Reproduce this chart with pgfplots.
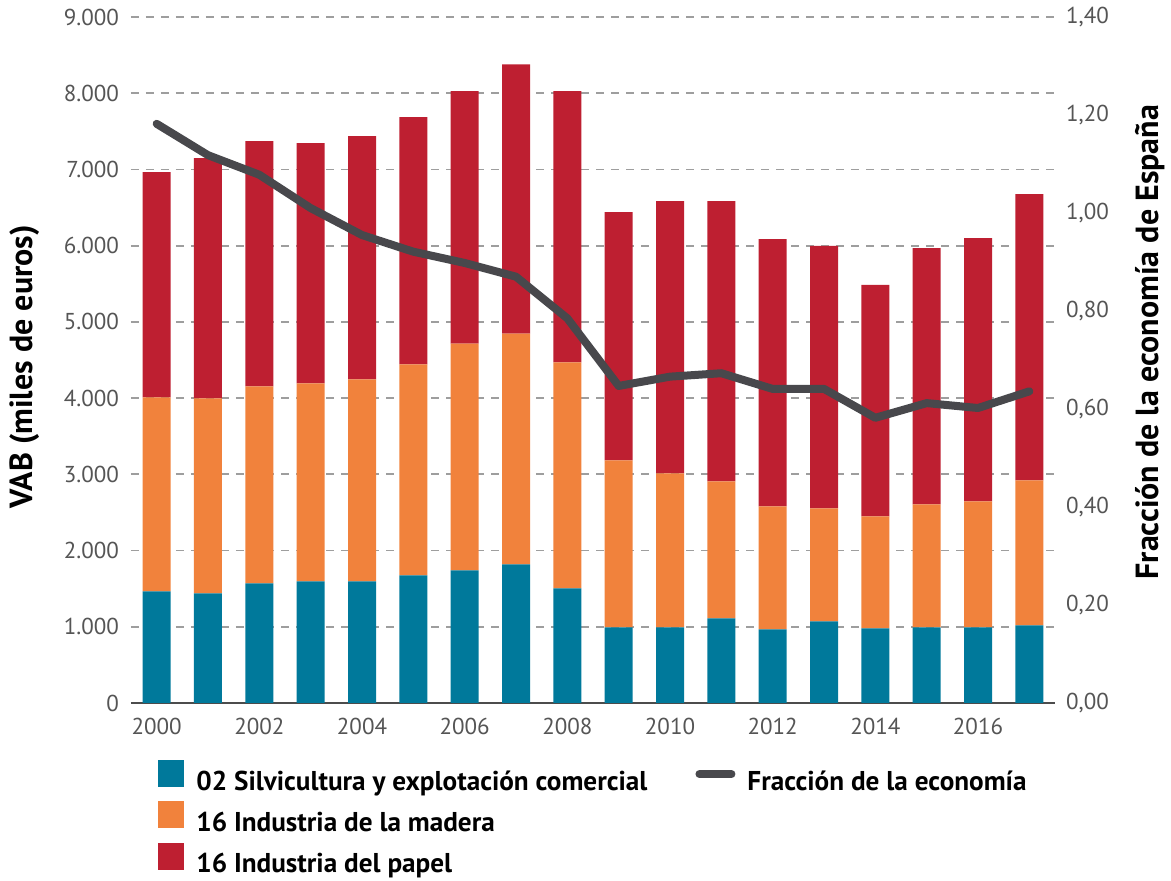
\documentclass[border=0pt]{standalone}
\usepackage{pgfplots}
\pgfplotsset{compat=1.18}
\usepackage{fontspec}
\setmainfont{PT Sans}
\definecolor{cBlue}{HTML}{00799B}
\definecolor{cOrange}{HTML}{F1823C}
\definecolor{cRed}{HTML}{BE1F31}
\definecolor{cLine}{HTML}{48484C}
\definecolor{cTick}{HTML}{555555}
\definecolor{cGrid}{HTML}{9E9E9E}
\pgfplotsset{
  barleg/.style={legend image code/.code={\fill[##1, draw=none] (0pt,-2.5pt) rectangle (13pt,11pt);}},
  lineleg/.style={legend image code/.code={\draw[##1] (2pt,4pt) -- (18pt,4pt);}},
}
\begin{document}
\begin{tikzpicture}
\useasboundingbox (-65.5pt,-89pt) rectangle (520pt,351.5pt);
\begin{axis}[
  at={(0pt,0pt)}, anchor=south west,
  scale only axis, width=462pt, height=343pt,
  xmin=-0.5, xmax=17.5, ymin=0, ymax=9000,
  ybar stacked, bar width=14pt,
  axis line style={draw=none},
  major tick length=0pt,
  xtick={0,2,...,16},
  xticklabels={2000,2002,2004,2006,2008,2010,2012,2014,2016},
  ytick={1000,2000,...,9000},
  extra y ticks={0},
  extra y tick style={grid style={solid, draw=black!70, line width=1.2pt}},
  ymajorgrids,
  grid style={draw=cGrid, line width=0.9pt, dash pattern=on 4pt off 3.5pt},
  /pgf/number format/assume math mode=true,
  /pgf/number format/1000 sep={.},
  scaled y ticks=false,
  tick label style={font=\fontsize{11.5}{13}\selectfont, text=cTick},
  yticklabel style={xshift=-2.5pt},
  xticklabel style={yshift=-4pt},
  every axis y label/.style={at={(axis description cs:-0.1147,0.49)}, rotate=90, anchor=center, font=\bfseries\fontsize{16}{18}\selectfont},
  ylabel={VAB (miles de euros)},
  legend columns=2,
  legend cell align=left,
  legend style={at={(axis description cs:0.0292,-0.0826)}, anchor=north west, draw=none, fill=none, inner sep=0pt,
    font=\bfseries\fontsize{13.6}{15}\selectfont, row sep=2pt,
    /tikz/every odd column/.append style={column sep=4pt},
    /tikz/every even column/.append style={column sep=22pt}},
]
\addplot[fill=cBlue, draw=none, barleg] coordinates {
(0,1465) (1,1439) (2,1570) (3,1596) (4,1596) (5,1675) (6,1740) (7,1819) (8,1504)
(9,993) (10,993) (11,1111) (12,966) (13,1071) (14,979) (15,993) (16,993) (17,1019)};
\addlegendentry{02 Silvicultura y explotación comercial}
\addlegendimage{lineleg, color=cLine, line width=4pt, line cap=round}
\addlegendentry{Fracción de la economía}
\addplot[fill=cOrange, draw=none, barleg] coordinates {
(0,2545) (1,2558) (2,2584) (3,2597) (4,2650) (5,2768) (6,2976) (7,3028) (8,2965)
(9,2190) (10,2020) (11,1797) (12,1614) (13,1483) (14,1470) (15,1613) (16,1652) (17,1902)};
\addlegendentry{16 Industria de la madera}
\addlegendimage{empty legend}
\addlegendentry{}
\addplot[fill=cRed, draw=none, barleg] coordinates {
(0,2955) (1,3151) (2,3217) (3,3152) (4,3191) (5,3243) (6,3310) (7,3533) (8,3557)
(9,3258) (10,3572) (11,3677) (12,3507) (13,3442) (14,3036) (15,3363) (16,3455) (17,3756)};
\addlegendentry{16 Industria del papel}
\end{axis}
\begin{axis}[
  at={(0pt,0pt)}, anchor=south west,
  scale only axis, width=462pt, height=343pt,
  xmin=-0.5, xmax=17.5, ymin=0, ymax=1.4,
  axis x line=none,
  axis y line*=right,
  axis line style={draw=none},
  major tick length=0pt,
  ytick={0,0.2,...,1.4},
  /pgf/number format/assume math mode=true,
  /pgf/number format/.cd, use comma, fixed, fixed zerofill, precision=2,
  /pgfplots/.cd,
  tick label style={font=\fontsize{11.5}{13}\selectfont, text=cTick},
  yticklabel style={xshift=2pt},
  every axis y label/.style={at={(axis description cs:1.1028,0.526)}, rotate=90, anchor=center, font=\bfseries\fontsize{16}{18}\selectfont},
  ylabel={Fracción de la economía de España},
]
\addplot[color=cLine, line width=4pt, line cap=round, line join=round] coordinates {
(0,1.182) (1,1.118) (2,1.078) (3,1.010) (4,0.955) (5,0.921) (6,0.898) (7,0.870) (8,0.785)
(9,0.647) (10,0.666) (11,0.673) (12,0.641) (13,0.641) (14,0.582) (15,0.612) (16,0.602) (17,0.636)};
\end{axis}
\end{tikzpicture}
\end{document}
